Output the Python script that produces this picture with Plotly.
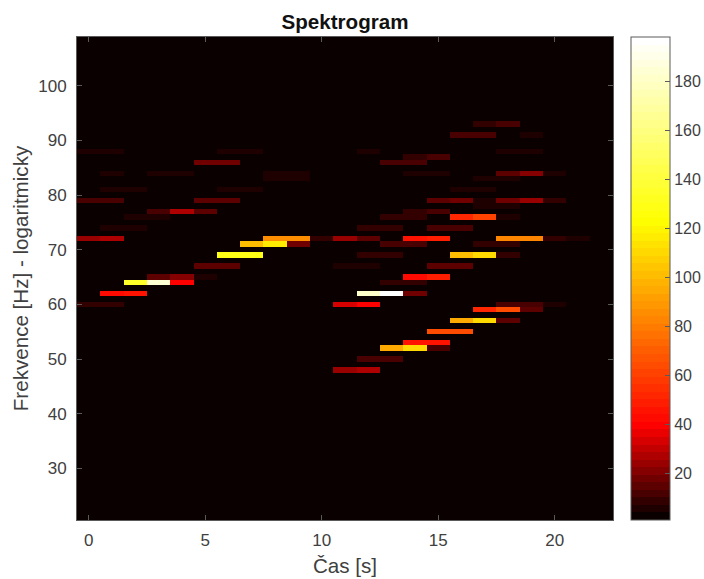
import plotly.graph_objects as go

times = list(range(23))
notes = list(range(21, 110))
background = 1
z_low = 1
z_high = 198

n48_cols = [11, 12, 13]; n48_vals = [24, 27, 4]
n50_cols = [12, 13]; n50_vals = [12, 12]
n52_cols = [13, 14, 15]; n52_vals = [95, 110, 12]
n53_cols = [14, 15, 16]; n53_vals = [46, 47, 3]
n55_cols = [15, 16, 17]; n55_vals = [63, 63, 3]
n57_cols = [16, 17, 18]; n57_vals = [95, 110, 16]
n59_cols = [17, 18, 19]; n59_vals = [52, 65, 14]
n60_cols = [0, 1, 11, 12, 13, 18, 19, 20, 21]; n60_vals = [9, 9, 34, 38, 4, 12, 12, 5, 3]
n62_cols = [1, 2, 3, 12, 13, 14]; n62_vals = [43, 45, 4, 180, 198, 18]
n64_cols = [2, 3, 4, 13, 14, 15]; n64_vals = [135, 185, 38, 10, 10, 4]
n65_cols = [3, 4, 5, 14, 15, 16]; n65_vals = [15, 20, 5, 44, 50, 3]
n66_cols = [3]; n66_vals = [3]
n67_cols = [5, 6, 11, 12, 15, 16]; n67_vals = [15, 15, 7, 7, 14, 14]
n69_cols = [6, 7, 8, 12, 13, 16, 17, 18]; n69_vals = [130, 130, 3, 9, 9, 100, 110, 10]
n71_cols = [7, 8, 9, 13, 14, 17, 18]; n71_vals = [100, 116, 18, 12, 12, 8, 8]
n72_cols = [0, 1, 8, 9, 10, 11, 12, 14, 15, 18, 19, 20, 21, 22]
n72_vals = [25, 27, 86, 86, 10, 24, 16, 45, 48, 82, 82, 10, 7, 3]
n74_cols = [1, 2, 12, 13, 15, 16]; n74_vals = [7, 7, 8, 8, 11, 11]
n76_cols = [2, 3, 11, 12, 13, 14, 15, 16, 17, 18]; n76_vals = [6, 7, 4, 4, 8, 10, 4, 52, 62, 5]
n77_cols = [3, 4, 5, 14, 15, 16]; n77_vals = [13, 28, 16, 9, 12, 3]
n78_cols = [17, 18]; n78_vals = [6, 6]
n79_cols = [0, 1, 5, 6, 15, 16, 17, 18, 19, 20, 21]; n79_vals = [13, 13, 16, 16, 16, 18, 6, 18, 24, 8, 3]
n81_cols = [1, 2, 6, 7, 13, 14, 15, 16, 17]; n81_vals = [5, 7, 6, 7, 3, 4, 3, 7, 7]
n83_cols = [2, 3, 7, 8, 9, 13, 14, 15, 16, 17, 18]; n83_vals = [4, 4, 3, 5, 5, 3, 3, 3, 3, 7, 7]
n84_cols = [0, 1, 3, 4, 5, 8, 9, 14, 15, 18, 19, 20]; n84_vals = [4, 5, 6, 7, 3, 6, 6, 5, 5, 14, 20, 6]
n86_cols = [5, 6, 13, 14, 16]; n86_vals = [18, 18, 11, 11, 3]
n87_cols = [14, 15, 16]; n87_vals = [8, 13, 3]
n88_cols = [0, 1, 6, 7, 11, 12, 18, 19]; n88_vals = [5, 5, 5, 5, 3, 6, 5, 5]
n89_cols = [3, 4, 16]; n89_vals = [4, 4, 3]
n90_cols = [2, 7, 8]; n90_vals = [4, 4, 4]
n91_cols = [16, 17, 18, 19, 20]; n91_vals = [13, 13, 3, 6, 3]
n92_cols = [2, 3]; n92_vals = [3, 3]
n93_cols = [6, 7, 16, 17, 18, 19]; n93_vals = [3, 3, 3, 9, 13, 3]

active_rows = [
    (48, n48_cols, n48_vals), (50, n50_cols, n50_vals), (52, n52_cols, n52_vals),
    (53, n53_cols, n53_vals), (55, n55_cols, n55_vals), (57, n57_cols, n57_vals),
    (59, n59_cols, n59_vals), (60, n60_cols, n60_vals), (62, n62_cols, n62_vals),
    (64, n64_cols, n64_vals), (65, n65_cols, n65_vals), (66, n66_cols, n66_vals),
    (67, n67_cols, n67_vals), (69, n69_cols, n69_vals), (71, n71_cols, n71_vals),
    (72, n72_cols, n72_vals), (74, n74_cols, n74_vals), (76, n76_cols, n76_vals),
    (77, n77_cols, n77_vals), (78, n78_cols, n78_vals), (79, n79_cols, n79_vals),
    (81, n81_cols, n81_vals), (83, n83_cols, n83_vals), (84, n84_cols, n84_vals),
    (86, n86_cols, n86_vals), (87, n87_cols, n87_vals), (88, n88_cols, n88_vals),
    (89, n89_cols, n89_vals), (90, n90_cols, n90_vals), (91, n91_cols, n91_vals),
    (92, n92_cols, n92_vals), (93, n93_cols, n93_vals),
]

z = [[background for _ in times] for _ in notes]
for note, cols, vals in active_rows:
    for c, v in zip(cols, vals):
        z[notes.index(note)][c] = v


def hot_colour(t):
    red_end, green_end = 0.19, 0.62
    r = min(1.0, 0.04 + 0.96 * t / red_end)
    g = min(1.0, max(0.0, (t - red_end) / (green_end - red_end)))
    b = min(1.0, max(0.0, (t - green_end) / (1 - green_end)))
    return f"rgb({round(r * 255)},{round(g * 255)},{round(b * 255)})"


levels = 64
colorscale = []
for i in range(levels):
    col = hot_colour(i / (levels - 1))
    colorscale.append([i / levels, col])
    colorscale.append([(i + 1) / levels, col])

FONT = "Liberation Sans"
INK = "#404040"
LINE = "#5a5a5a"
bar_ticks = [20, 40, 60, 80, 100, 120, 140, 160, 180]

fig = go.Figure(go.Heatmap(
    x=times, y=notes, z=z, zmin=z_low, zmax=z_high,
    colorscale=colorscale, zsmooth=False, hoverongaps=False,
    colorbar=dict(
        x=(631 - 77) / 536, xanchor="left", xpad=0, ypad=0,
        y=0.5, yanchor="middle", len=1, lenmode="fraction",
        thickness=39, thicknessmode="pixels",
        outlinecolor=LINE, outlinewidth=1,
        ticks="inside", ticklen=5, tickwidth=1, tickcolor=LINE,
        tickvals=bar_ticks,
        tickfont=dict(family=FONT, size=16, color=INK),
    ),
))

axis = dict(
    showgrid=False, zeroline=False, showline=True, linecolor=LINE, linewidth=1,
    mirror="ticks", ticks="inside", ticklen=5, tickwidth=1, tickcolor=LINE,
    tickfont=dict(family=FONT, size=17, color=INK),
)

fig.update_layout(
    width=704, height=579,
    margin=dict(l=77, r=91, t=37, b=59, autoexpand=False),
    paper_bgcolor="white", plot_bgcolor="black",
    title=dict(text="<b>Spektrogram</b>", x=345 / 704, xanchor="center",
               y=1 - 22 / 579, yanchor="middle",
               font=dict(family=FONT, size=20.6, color="#111111")),
    xaxis=dict(axis, range=[-0.5, 22.5], tickvals=[0, 5, 10, 15, 20], ticklabelstandoff=5,
               title=dict(text="Čas [s]", standoff=9,
                          font=dict(family=FONT, size=20.6, color=INK))),
    yaxis=dict(axis, range=[20.55, 108.95], tickvals=[30, 40, 50, 60, 70, 80, 90, 100], ticklabelstandoff=6,
               title=dict(text="Frekvence [Hz] - logaritmicky", standoff=4,
                          font=dict(family=FONT, size=20.6, color=INK))),
)

fig.write_html("out.html", config={"displayModeBar": False},
               post_script="document.body.style.margin='0';")
